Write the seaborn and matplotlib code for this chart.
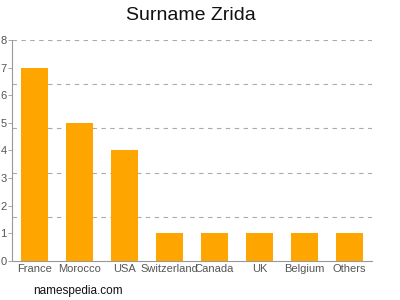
import numpy as np
import pandas as pd
import matplotlib
matplotlib.use("Agg")
import matplotlib.pyplot as plt
import seaborn as sns

# data
countries = ["France", "Morocco", "USA", "Switzerland", "Canada", "UK", "Belgium", "Others"]
counts = [7, 5, 4, 1, 1, 1, 1, 1]

df = pd.DataFrame({"country": countries, "count": counts})

sns.set_style("white")
plt.rcParams["font.family"] = ["Liberation Sans", "DejaVu Sans"]

fig = plt.figure(figsize=(4, 3), dpi=100)
ax = fig.add_axes([0.03, 0.13, 0.90, 0.737])

sns.barplot(data=df, x="country", y="count", color="#FFA500", saturation=1,
            width=0.62, linewidth=0, ax=ax, zorder=3)

ax.set_ylim(0, 8)
ax.set_xlim(-0.5, len(countries) - 0.5)
ax.set_yticks(range(0, 9))
ax.set_xlabel("")
ax.set_ylabel("")

# dashed grid every 1.6
for g in np.arange(1.6, 8.01, 1.6):
    ax.axhline(g, color="#aaaaaa", linestyle=(0, (4, 4)), linewidth=0.8, zorder=1)

for s in ["top", "right"]:
    ax.spines[s].set_visible(False)
ax.spines["left"].set_color("#999999")
ax.spines["bottom"].set_color("#999999")
ax.spines["left"].set_linewidth(0.8)
ax.spines["bottom"].set_linewidth(0.8)

ax.tick_params(axis="both", colors="#999999", length=3, width=0.6, labelsize=8,
               labelcolor="#555555", pad=1)
ax.tick_params(axis="y", left=True, pad=1)
ax.tick_params(axis="x", bottom=True, direction="in", length=3, pad=2)

fig.text(0.477, 0.95, "Surname Zrida", ha="center", va="center", fontsize=14, color="#111111")
fig.text(0.082, 0.03, "namespedia.com", ha="left", va="center", fontsize=8.5, color="#111111")

fig.savefig("out.png", dpi=100)
